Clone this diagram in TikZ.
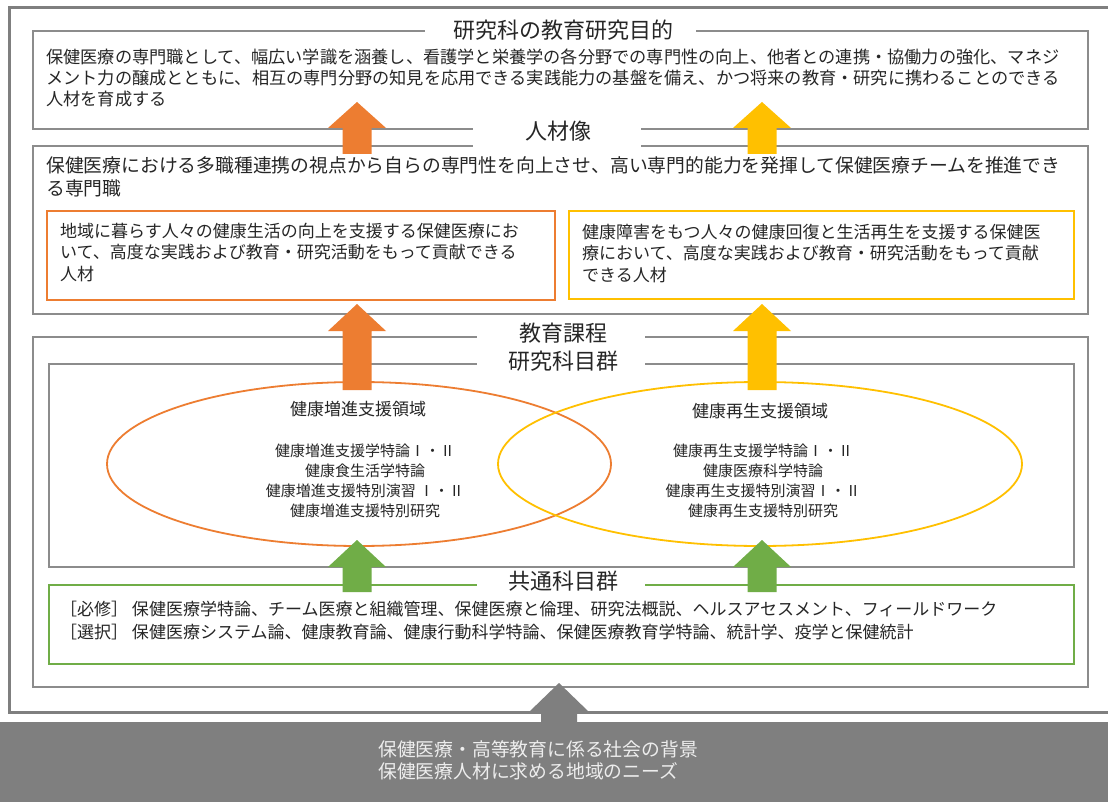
\documentclass[tikz,border=0pt]{standalone}
\usepackage{fontspec}
\setmainfont{Noto Sans CJK JP}
\definecolor{frameGray}{HTML}{7F7F7F}
\definecolor{boxGray}{HTML}{8C8C8C}
\definecolor{accOrange}{HTML}{ED7D31}
\definecolor{accYellow}{HTML}{FFC000}
\definecolor{accGreen}{HTML}{70AD47}
\definecolor{txtDark}{HTML}{262626}
\definecolor{txtLight}{HTML}{EDEDED}
\newcommand\blkarrow[7]{%
  \fill[#1] (#2,#3) -- (#2+#6,#4) -- (#2+#7,#4) -- (#2+#7,#5) -- (#2-#7,#5) -- (#2-#7,#4) -- (#2-#6,#4) -- cycle;}
\tikzset{
  graybox/.style={draw=boxGray, line width=2.5pt},
  innerbox/.style={draw=boxGray, line width=2pt},
  titletext/.style={inner sep=0pt, text=txtDark, font=\fontsize{22}{26}\selectfont},
  bodytext/.style={inner sep=0pt, anchor=north west, align=left, text=txtDark},
  coursetext/.style={inner sep=0pt, anchor=north, align=center, text=txtDark, font=\fontsize{15}{20}\selectfont},
}
\begin{document}
\begin{tikzpicture}[x=1pt,y=-1pt]
\clip (0,0) rectangle (1108,802);
\path[use as bounding box] (0,0) rectangle (1108,802);
\fill[white] (0,0) rectangle (1108,802);

% outer frame and bottom band
\draw[draw=frameGray, line width=3pt] (9,8) rectangle (1120,712);
\fill[frameGray] (0,722) rectangle (1108,802);

% boxes
\draw[graybox] (33,31) rectangle (1088,129);
\draw[graybox] (33,146) rectangle (1088,314);
\draw[draw=accOrange, line width=1.6pt] (47,211) rectangle (555,300);
\draw[draw=accYellow, line width=1.6pt] (569,211) rectangle (1074,299);
\draw[graybox] (33,337) rectangle (1088,687);
\draw[innerbox] (49,364) rectangle (1074,567);
\draw[draw=accGreen, line width=1.6pt] (49,585) rectangle (1074,664);

% ellipses
\draw[accOrange, line width=1.8pt] (359,464) ellipse [x radius=252, y radius=82];
\draw[accYellow, line width=1.8pt] (760,464) ellipse [x radius=262, y radius=82];

% block arrows
\blkarrow{accOrange}{357}{102}{128}{154}{29}{14.5}
\blkarrow{accYellow}{762}{102}{128}{154}{29}{14.5}
\blkarrow{accOrange}{357}{304}{331}{390}{29}{14.5}
\blkarrow{accYellow}{762}{304}{331}{390}{29}{14.5}
\blkarrow{accGreen}{357}{540}{567}{592}{29}{14.5}
\blkarrow{accGreen}{762}{540}{567}{592}{29}{14.5}
\blkarrow{frameGray}{559}{683}{712}{726}{30}{18}

% title backgrounds
\fill[white] (425,22) rectangle (696,40);
\fill[white] (473,123) rectangle (641,150);
\fill[white] (477,330) rectangle (645,368);
\fill[white] (477,577) rectangle (645,590);

% titles
\node[titletext] (t1) at (563,30) {研究科の教育研究目的};
\node[titletext] (t2) at (558,131) {人材像};
\node[titletext] (t3) at (563,333) {教育課程};
\node[titletext] (t4) at (563,361) {研究科目群};
\node[titletext] (t5) at (563,581) {共通科目群};

% texts
\node[bodytext, font=\fontsize{17.2}{21}\selectfont] (purpose) at (46,48.4)
 {保健医療の専門職として、幅広い学識を涵養し、看護学と栄養学の各分野での専門性の向上、他者との連携・協働力の強化、マネジ\\
  メント力の醸成とともに、相互の専門分野の知見を応用できる実践能力の基盤を備え、かつ将来の教育・研究に携わることのできる\\
  人材を育成する};
\node[bodytext, font=\fontsize{18.8}{23}\selectfont] (image) at (46,156.6)
 {保健医療における多職種連携の視点から自らの専門性を向上させ、高い専門的能力を発揮して保健医療チームを推進でき\\
  る専門職};
\node[bodytext, font=\fontsize{17}{21.5}\selectfont] (imgA) at (60,222.5)
 {地域に暮らす人々の健康生活の向上を支援する保健医療にお\\
  いて、高度な実践および教育・研究活動をもって貢献できる\\
  人材};
\node[bodytext, font=\fontsize{17}{21.5}\selectfont] (imgB) at (582,223.5)
 {健康障害をもつ人々の健康回復と生活再生を支援する保健医\\
  療において、高度な実践および教育・研究活動をもって貢献\\
  できる人材};

\node[titletext, font=\fontsize{17}{20}\selectfont] (areaA) at (358,409) {健康増進支援領域};
\node[coursetext] (coursesA) at (365,443.5)
 {健康増進支援学特論Ⅰ・Ⅱ\\ 健康食生活学特論\\ 健康増進支援特別演習 Ⅰ・Ⅱ\\ 健康増進支援特別研究};
\node[titletext, font=\fontsize{17}{20}\selectfont] (areaB) at (760,411) {健康再生支援領域};
\node[coursetext] (coursesB) at (763,443.5)
 {健康再生支援学特論Ⅰ・Ⅱ\\ 健康医療科学特論\\ 健康再生支援特別演習Ⅰ・Ⅱ\\ 健康再生支援特別研究};

\node[bodytext, font=\fontsize{17}{23}\selectfont] (common) at (60,600.5)
 {［必修］ 保健医療学特論、チーム医療と組織管理、保健医療と倫理、研究法概説、ヘルスアセスメント、フィールドワーク\\
  ［選択］ 保健医療システム論、健康教育論、健康行動科学特論、保健医療教育学特論、統計学、疫学と保健統計};

\node[bodytext, text=txtLight, font=\fontsize{18.8}{22}\selectfont] (background) at (378,740.6)
 {保健医療・高等教育に係る社会の背景\\
  保健医療人材に求める地域のニーズ};
\end{tikzpicture}
\end{document}
